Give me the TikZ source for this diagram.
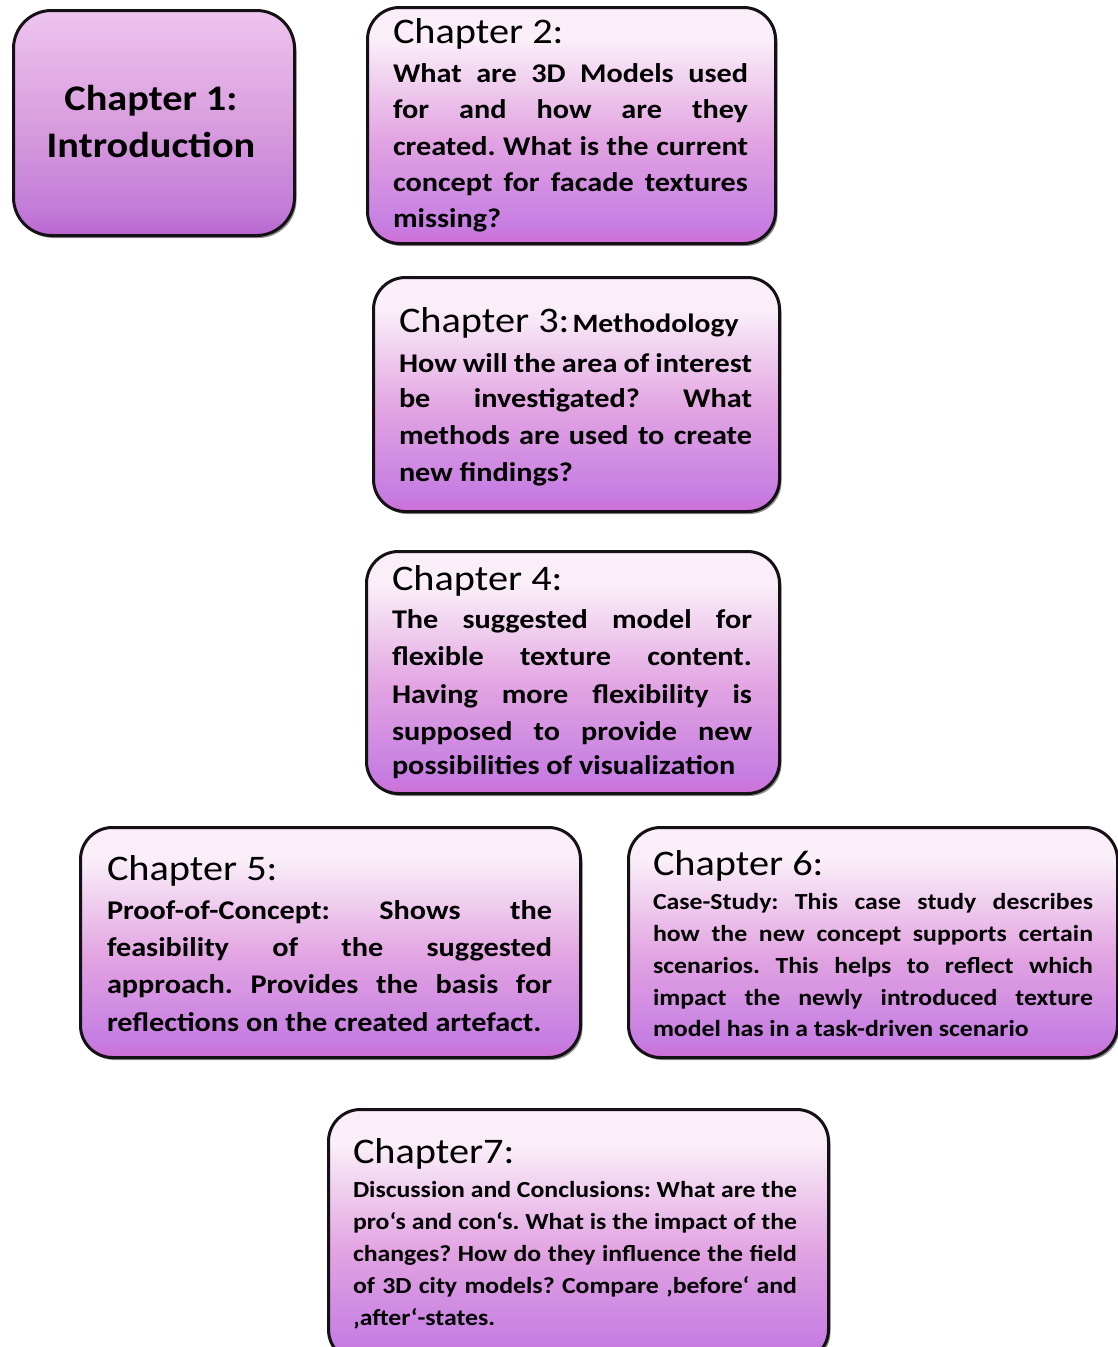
\documentclass[tikz,border=0pt]{standalone}
\usepackage{fontspec}
\setmainfont{Carlito}[FakeStretch=1.12]
\usetikzlibrary{shadows}
\frenchspacing
\definecolor{topc}{HTML}{FAEEF8}
\definecolor{midc}{HTML}{E2A4E2}
\definecolor{lowc}{HTML}{C67EE2}
\definecolor{botc}{HTML}{CF6FD6}
\definecolor{topA}{HTML}{EEC4EE}
\definecolor{midA}{HTML}{D99EDE}
\definecolor{lowA}{HTML}{C27AD8}
\definecolor{botA}{HTML}{B866CF}
\definecolor{edgec}{HTML}{151015}
\pgfdeclareverticalshading{chshade}{100bp}{color(0bp)=(botc); color(25bp)=(botc); color(29bp)=(lowc); color(47bp)=(midc); color(68bp)=(topc); color(100bp)=(topc)}
\pgfdeclareverticalshading{chshadeA}{100bp}{color(0bp)=(botA); color(25bp)=(botA); color(30bp)=(lowA); color(50bp)=(midA); color(75bp)=(topA); color(100bp)=(topA)}
\tikzset{
  chbox/.style={draw=edgec, line width=3pt, rounded corners=32pt, shading=chshade,
    anchor=north west, inner sep=0pt,
    drop shadow={shadow xshift=2pt, shadow yshift=-2.5pt, opacity=0.45, fill=black}},
  ln/.style={anchor=base west, inner sep=0pt, outer sep=0pt, text=black},
  hd/.style={ln, font=\fontsize{36}{36}\selectfont},
  bd/.style={ln, font=\fontsize{27}{27}\selectfont\bfseries},
  sm/.style={ln, font=\fontsize{23}{23}\selectfont\bfseries},
}
\begin{document}
\begin{tikzpicture}[x=1pt, y=-1pt]
\clip (0,0) rectangle (1118,1347);
\fill[white] (0,0) rectangle (1118,1347);

% Chapter 1
\node[chbox, shading=chshadeA, rounded corners=38pt, minimum width=281pt, minimum height=225pt] (b1) at (12,9) {};
\node[ln, anchor=base, font=\fontsize{36}{36}\selectfont\bfseries] (b1a) at (151,110) {Chapter 1:};
\node[ln, anchor=base, font=\fontsize{36}{36}\selectfont\bfseries] (b1b) at (151,157) {Introduction};

% Chapter 2
\node[chbox, minimum width=408pt, minimum height=236pt] (b2) at (366,6) {};
\node[hd] (b2h) at (393,43) {Chapter 2:};
\node[bd] (b2l1) at (393,82) {\makebox[355pt][s]{What are 3D Models used}};
\node[bd] (b2l2) at (393,118) {\makebox[355pt][s]{for and how are they}};
\node[bd] (b2l3) at (393,155) {\makebox[355pt][s]{created. What is the current}};
\node[bd] (b2l4) at (393,191) {\makebox[355pt][s]{concept for facade textures}};
\node[bd] (b2l5) at (393,227) {missing?};

% Chapter 3
\node[chbox, minimum width=406pt, minimum height=234pt] (b3) at (372,276) {};
\node[hd] (b3h) at (399,332) {Chapter 3:\hspace{3pt}{\fontsize{26.5}{26.5}\selectfont\bfseries Methodology}};
\node[bd] (b3l1) at (399,372) {\makebox[353pt][s]{How will the area of interest}};
\node[bd] (b3l2) at (399,407) {\makebox[353pt][s]{be investigated? What}};
\node[bd] (b3l3) at (399,444) {\makebox[353pt][s]{methods are used to create}};
\node[bd] (b3l4) at (399,481) {new findings?};

% Chapter 4
\node[chbox, minimum width=413pt, minimum height=242pt] (b4) at (365,550) {};
\node[hd] (b4h) at (392,590) {Chapter 4:};
\node[bd] (b4l1) at (392,628) {\makebox[360pt][s]{The suggested model for}};
\node[bd] (b4l2) at (392,665) {\makebox[360pt][s]{flexible texture content.}};
\node[bd] (b4l3) at (392,703) {\makebox[360pt][s]{Having more flexibility is}};
\node[bd] (b4l4) at (392,740) {\makebox[360pt][s]{supposed to provide new}};
\node[bd] (b4l5) at (392,774) {possibilities of visualization};

% Chapter 5
\node[chbox, minimum width=500pt, minimum height=230pt] (b5) at (79,826) {};
\node[hd] (b5h) at (107,880) {Chapter 5:};
\node[bd] (b5l1) at (107,919) {\makebox[445pt][s]{Proof-of-Concept: Shows the}};
\node[bd] (b5l2) at (107,956) {\makebox[445pt][s]{feasibility of the suggested}};
\node[bd] (b5l3) at (107,993) {\makebox[445pt][s]{approach. Provides the basis for}};
\node[bd] (b5l4) at (107,1031) {reflections on the created artefact.};

% Chapter 6
\node[chbox, minimum width=489pt, minimum height=230pt] (b6) at (627,826) {};
\node[hd] (b6h) at (653,875) {Chapter 6:};
\node[sm] (b6l1) at (653,909) {\makebox[440pt][s]{Case-Study: This case study describes}};
\node[sm] (b6l2) at (653,941) {\makebox[440pt][s]{how the new concept supports certain}};
\node[sm] (b6l3) at (653,973) {\makebox[440pt][s]{scenarios. This helps to reflect which}};
\node[sm] (b6l4) at (653,1005) {\makebox[440pt][s]{impact the newly introduced texture}};
\node[sm] (b6l5) at (653,1036) {model has in a task-driven scenario};

% Chapter 7
\node[chbox, minimum width=500pt, minimum height=252pt] (b7) at (327,1108) {};
\node[hd] (b7h) at (353,1163) {Chapter7:};
\node[sm] (b7l1) at (353,1197) {\makebox[444pt][s]{Discussion and Conclusions: What are the}};
\node[sm] (b7l2) at (353,1229) {\makebox[444pt][s]{pro‘s and con‘s. What is the impact of the}};
\node[sm] (b7l3) at (353,1261) {\makebox[444pt][s]{changes? How do they influence the field}};
\node[sm] (b7l4) at (353,1293) {\makebox[444pt][s]{of 3D city models? Compare ‚before‘ and}};
\node[sm] (b7l5) at (353,1325) {‚after‘-states.};
\end{tikzpicture}
\end{document}
